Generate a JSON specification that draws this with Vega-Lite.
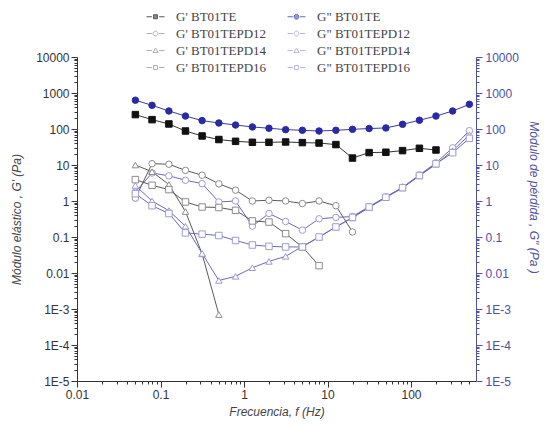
{
  "$schema": "https://vega.github.io/schema/vega-lite/v6.json",
  "width": 399,
  "height": 324,
  "autosize": {"type": "none"},
  "padding": {"left": 77, "top": 57, "right": 69, "bottom": 45},
  "background": "white",
  "config": {
    "view": {"stroke": null},
    "axis": {"grid": false, "labelFont": "Liberation Sans", "titleFont": "Liberation Sans", "labelFontSize": 12, "titleFontSize": 12, "titleFontStyle": "italic", "titleFontWeight": "normal", "labelOverlap": false, "labelFlush": false}
  },
  "datasets": {
    "rheo": [
      {"series": "G' BT01TE", "f": 0.05, "G": 251}, {"series": "G' BT01TE", "f": 0.0792, "G": 182}, {"series": "G' BT01TE", "f": 0.126, "G": 138}, {"series": "G' BT01TE", "f": 0.199, "G": 88}, {"series": "G' BT01TE", "f": 0.315, "G": 64}, {"series": "G' BT01TE", "f": 0.5, "G": 51}, {"series": "G' BT01TE", "f": 0.792, "G": 45.5}, {"series": "G' BT01TE", "f": 1.26, "G": 42.7}, {"series": "G' BT01TE", "f": 1.99, "G": 42.7}, {"series": "G' BT01TE", "f": 3.15, "G": 43.6}, {"series": "G' BT01TE", "f": 5, "G": 41.9}, {"series": "G' BT01TE", "f": 7.92, "G": 40.8}, {"series": "G' BT01TE", "f": 12.6, "G": 36.9}, {"series": "G' BT01TE", "f": 19.9, "G": 15.6}, {"series": "G' BT01TE", "f": 31.5, "G": 22.1}, {"series": "G' BT01TE", "f": 50, "G": 22.6}, {"series": "G' BT01TE", "f": 79.2, "G": 25.1}, {"series": "G' BT01TE", "f": 126, "G": 29.1}, {"series": "G' BT01TE", "f": 199, "G": 26.1},
      {"series": "G\" BT01TE", "f": 0.05, "G": 631}, {"series": "G\" BT01TE", "f": 0.0792, "G": 455}, {"series": "G\" BT01TE", "f": 0.126, "G": 316}, {"series": "G\" BT01TE", "f": 0.199, "G": 229}, {"series": "G\" BT01TE", "f": 0.315, "G": 171}, {"series": "G\" BT01TE", "f": 0.5, "G": 147}, {"series": "G\" BT01TE", "f": 0.792, "G": 129}, {"series": "G\" BT01TE", "f": 1.26, "G": 114}, {"series": "G\" BT01TE", "f": 1.99, "G": 105}, {"series": "G\" BT01TE", "f": 3.15, "G": 96}, {"series": "G\" BT01TE", "f": 5, "G": 92}, {"series": "G\" BT01TE", "f": 7.92, "G": 88}, {"series": "G\" BT01TE", "f": 12.6, "G": 92}, {"series": "G\" BT01TE", "f": 19.9, "G": 98}, {"series": "G\" BT01TE", "f": 31.5, "G": 103}, {"series": "G\" BT01TE", "f": 50, "G": 107}, {"series": "G\" BT01TE", "f": 79.2, "G": 135}, {"series": "G\" BT01TE", "f": 126, "G": 175}, {"series": "G\" BT01TE", "f": 199, "G": 229}, {"series": "G\" BT01TE", "f": 315, "G": 316}, {"series": "G\" BT01TE", "f": 500, "G": 485},
      {"series": "G' BT01TEPD12", "f": 0.05, "G": 1.2}, {"series": "G' BT01TEPD12", "f": 0.0792, "G": 10.9}, {"series": "G' BT01TEPD12", "f": 0.126, "G": 10.5}, {"series": "G' BT01TEPD12", "f": 0.199, "G": 7.1}, {"series": "G' BT01TEPD12", "f": 0.315, "G": 5.2}, {"series": "G' BT01TEPD12", "f": 0.5, "G": 3.0}, {"series": "G' BT01TEPD12", "f": 0.792, "G": 2.0}, {"series": "G' BT01TEPD12", "f": 1.26, "G": 1.0}, {"series": "G' BT01TEPD12", "f": 1.99, "G": 1.05}, {"series": "G' BT01TEPD12", "f": 3.15, "G": 1.0}, {"series": "G' BT01TEPD12", "f": 5, "G": 0.85}, {"series": "G' BT01TEPD12", "f": 7.92, "G": 1.0}, {"series": "G' BT01TEPD12", "f": 12.6, "G": 0.74}, {"series": "G' BT01TEPD12", "f": 19.9, "G": 0.138},
      {"series": "G\" BT01TEPD12", "f": 0.05, "G": 1.75}, {"series": "G\" BT01TEPD12", "f": 0.0792, "G": 6.0}, {"series": "G\" BT01TEPD12", "f": 0.126, "G": 5.0}, {"series": "G\" BT01TEPD12", "f": 0.199, "G": 3.76}, {"series": "G\" BT01TEPD12", "f": 0.315, "G": 3.04}, {"series": "G\" BT01TEPD12", "f": 0.5, "G": 0.94}, {"series": "G\" BT01TEPD12", "f": 0.792, "G": 1.0}, {"series": "G\" BT01TEPD12", "f": 1.26, "G": 0.2}, {"series": "G\" BT01TEPD12", "f": 1.99, "G": 0.45}, {"series": "G\" BT01TEPD12", "f": 3.15, "G": 0.27}, {"series": "G\" BT01TEPD12", "f": 5, "G": 0.155}, {"series": "G\" BT01TEPD12", "f": 7.92, "G": 0.32}, {"series": "G\" BT01TEPD12", "f": 12.6, "G": 0.35}, {"series": "G\" BT01TEPD12", "f": 19.9, "G": 0.37}, {"series": "G\" BT01TEPD12", "f": 31.5, "G": 0.7}, {"series": "G\" BT01TEPD12", "f": 50, "G": 1.3}, {"series": "G\" BT01TEPD12", "f": 79.2, "G": 2.4}, {"series": "G\" BT01TEPD12", "f": 126, "G": 5.3}, {"series": "G\" BT01TEPD12", "f": 199, "G": 11.5}, {"series": "G\" BT01TEPD12", "f": 315, "G": 30}, {"series": "G\" BT01TEPD12", "f": 500, "G": 90},
      {"series": "G' BT01TEPD14", "f": 0.05, "G": 10}, {"series": "G' BT01TEPD14", "f": 0.0792, "G": 6.5}, {"series": "G' BT01TEPD14", "f": 0.126, "G": 2.86}, {"series": "G' BT01TEPD14", "f": 0.199, "G": 0.51}, {"series": "G' BT01TEPD14", "f": 0.315, "G": 0.034}, {"series": "G' BT01TEPD14", "f": 0.5, "G": 0.0007},
      {"series": "G\" BT01TEPD14", "f": 0.05, "G": 2.7}, {"series": "G\" BT01TEPD14", "f": 0.0792, "G": 1.0}, {"series": "G\" BT01TEPD14", "f": 0.126, "G": 0.54}, {"series": "G\" BT01TEPD14", "f": 0.199, "G": 0.2}, {"series": "G\" BT01TEPD14", "f": 0.315, "G": 0.035}, {"series": "G\" BT01TEPD14", "f": 0.5, "G": 0.0062}, {"series": "G\" BT01TEPD14", "f": 0.792, "G": 0.0081}, {"series": "G\" BT01TEPD14", "f": 1.26, "G": 0.014}, {"series": "G\" BT01TEPD14", "f": 1.99, "G": 0.021}, {"series": "G\" BT01TEPD14", "f": 3.15, "G": 0.029}, {"series": "G\" BT01TEPD14", "f": 5, "G": 0.055}, {"series": "G\" BT01TEPD14", "f": 7.92, "G": 0.1}, {"series": "G\" BT01TEPD14", "f": 12.6, "G": 0.19}, {"series": "G\" BT01TEPD14", "f": 19.9, "G": 0.34}, {"series": "G\" BT01TEPD14", "f": 31.5, "G": 0.66}, {"series": "G\" BT01TEPD14", "f": 50, "G": 1.25}, {"series": "G\" BT01TEPD14", "f": 79.2, "G": 2.3}, {"series": "G\" BT01TEPD14", "f": 126, "G": 5.0}, {"series": "G\" BT01TEPD14", "f": 199, "G": 10.5}, {"series": "G\" BT01TEPD14", "f": 315, "G": 25}, {"series": "G\" BT01TEPD14", "f": 500, "G": 68},
      {"series": "G' BT01TEPD16", "f": 0.05, "G": 3.93}, {"series": "G' BT01TEPD16", "f": 0.0792, "G": 2.73}, {"series": "G' BT01TEPD16", "f": 0.126, "G": 2.07}, {"series": "G' BT01TEPD16", "f": 0.199, "G": 0.94}, {"series": "G' BT01TEPD16", "f": 0.315, "G": 0.68}, {"series": "G' BT01TEPD16", "f": 0.5, "G": 0.66}, {"series": "G' BT01TEPD16", "f": 0.792, "G": 0.55}, {"series": "G' BT01TEPD16", "f": 1.26, "G": 0.28}, {"series": "G' BT01TEPD16", "f": 1.99, "G": 0.26}, {"series": "G' BT01TEPD16", "f": 3.15, "G": 0.124}, {"series": "G' BT01TEPD16", "f": 5, "G": 0.053}, {"series": "G' BT01TEPD16", "f": 7.92, "G": 0.016},
      {"series": "G\" BT01TEPD16", "f": 0.05, "G": 1.6}, {"series": "G\" BT01TEPD16", "f": 0.0792, "G": 0.74}, {"series": "G\" BT01TEPD16", "f": 0.126, "G": 0.45}, {"series": "G\" BT01TEPD16", "f": 0.199, "G": 0.13}, {"series": "G\" BT01TEPD16", "f": 0.315, "G": 0.12}, {"series": "G\" BT01TEPD16", "f": 0.5, "G": 0.11}, {"series": "G\" BT01TEPD16", "f": 0.792, "G": 0.08}, {"series": "G\" BT01TEPD16", "f": 1.26, "G": 0.06}, {"series": "G\" BT01TEPD16", "f": 1.99, "G": 0.055}, {"series": "G\" BT01TEPD16", "f": 3.15, "G": 0.053}, {"series": "G\" BT01TEPD16", "f": 5, "G": 0.053}, {"series": "G\" BT01TEPD16", "f": 7.92, "G": 0.1}, {"series": "G\" BT01TEPD16", "f": 12.6, "G": 0.19}, {"series": "G\" BT01TEPD16", "f": 19.9, "G": 0.35}, {"series": "G\" BT01TEPD16", "f": 31.5, "G": 0.68}, {"series": "G\" BT01TEPD16", "f": 50, "G": 1.27}, {"series": "G\" BT01TEPD16", "f": 79.2, "G": 2.35}, {"series": "G\" BT01TEPD16", "f": 126, "G": 5.1}, {"series": "G\" BT01TEPD16", "f": 199, "G": 10.8}, {"series": "G\" BT01TEPD16", "f": 315, "G": 22}, {"series": "G\" BT01TEPD16", "f": 500, "G": 55}
    ]
  },
  "data": {"name": "rheo"},
  "encoding": {
    "x": {
      "field": "f", "type": "quantitative",
      "scale": {"type": "log", "domain": [0.01, 600], "nice": false},
      "axis": {
        "values": [0.01,0.02,0.03,0.04,0.05,0.06,0.07,0.08,0.09,0.1,0.2,0.3,0.4,0.5,0.6,0.7,0.8,0.9,1,2,3,4,5,6,7,8,9,10,20,30,40,50,60,70,80,90,100,200,300,400,500],
        "labelExpr": "abs(log(datum.value)/LN10 - round(log(datum.value)/LN10)) < 0.001 ? format(datum.value, '~g') : ''",
        "tickSize": {"condition": {"test": "abs(log(datum.value)/LN10 - round(log(datum.value)/LN10)) < 0.001", "value": 6}, "value": 3},
        "title": "Frecuencia, f (Hz)",
        "titleColor": "#444", "labelColor": "#333", "domainColor": "#333", "tickColor": "#333",
        "labelPadding": 2, "titlePadding": 6
      }
    }
  },
  "layer": [
    {
      "mark": {"type": "line", "strokeWidth": 1},
      "encoding": {
        "y": {
          "field": "G", "type": "quantitative",
          "scale": {"type": "log", "domain": [0.00001, 10000], "nice": false},
          "axis": {
            "orient": "left",
            "values": [1e-5,2e-5,3e-5,4e-5,5e-5,6e-5,7e-5,8e-5,9e-5,1e-4,2e-4,3e-4,4e-4,5e-4,6e-4,7e-4,8e-4,9e-4,0.001,0.002,0.003,0.004,0.005,0.006,0.007,0.008,0.009,0.01,0.02,0.03,0.04,0.05,0.06,0.07,0.08,0.09,0.1,0.2,0.3,0.4,0.5,0.6,0.7,0.8,0.9,1,2,3,4,5,6,7,8,9,10,20,30,40,50,60,70,80,90,100,200,300,400,500,600,700,800,900,1000,2000,3000,4000,5000,6000,7000,8000,9000,10000],
            "labelExpr": "abs(log(datum.value)/LN10 - round(log(datum.value)/LN10)) < 0.001 ? (datum.value >= 0.01 ? format(datum.value, '~g') : '1E' + round(log(datum.value)/LN10)) : ''",
            "tickSize": {"condition": {"test": "abs(log(datum.value)/LN10 - round(log(datum.value)/LN10)) < 0.001", "value": 6}, "value": 3},
            "title": "Módulo elástico  , G' (Pa)",
            "titleX": -54, "titleY": 162, "titleAngle": -90,
            "titleColor": "#444", "labelColor": "#333", "domainColor": "#333", "tickColor": "#333",
            "labelPadding": 2
          }
        },
        "color": {
          "field": "series", "type": "nominal", "legend": null,
          "scale": {
            "domain": ["G' BT01TE", "G' BT01TEPD12", "G' BT01TEPD14", "G' BT01TEPD16", "G\" BT01TE", "G\" BT01TEPD12", "G\" BT01TEPD14", "G\" BT01TEPD16"],
            "range": ["#333333", "#5a5a5a", "#5a5a5a", "#5a5a5a", "#3a3aa8", "#6b6bb5", "#6b6bb5", "#6b6bb5"]
          }
        }
      }
    },
    {
      "mark": {"type": "point", "filled": true, "size": 42, "strokeWidth": 1, "opacity": 1},
      "encoding": {
        "y": {
          "field": "G", "type": "quantitative",
          "scale": {"type": "log", "domain": [0.00001, 10000], "nice": false},
          "axis": {
            "orient": "right",
            "values": [1e-5,2e-5,3e-5,4e-5,5e-5,6e-5,7e-5,8e-5,9e-5,1e-4,2e-4,3e-4,4e-4,5e-4,6e-4,7e-4,8e-4,9e-4,0.001,0.002,0.003,0.004,0.005,0.006,0.007,0.008,0.009,0.01,0.02,0.03,0.04,0.05,0.06,0.07,0.08,0.09,0.1,0.2,0.3,0.4,0.5,0.6,0.7,0.8,0.9,1,2,3,4,5,6,7,8,9,10,20,30,40,50,60,70,80,90,100,200,300,400,500,600,700,800,900,1000,2000,3000,4000,5000,6000,7000,8000,9000,10000],
            "labelExpr": "abs(log(datum.value)/LN10 - round(log(datum.value)/LN10)) < 0.001 ? (datum.value >= 0.01 ? format(datum.value, '~g') : '1E' + round(log(datum.value)/LN10)) : ''",
            "tickSize": {"condition": {"test": "abs(log(datum.value)/LN10 - round(log(datum.value)/LN10)) < 0.001", "value": 6}, "value": 3},
            "title": "Módulo de pérdida , G\" (Pa )",
            "titleX": 50, "titleY": 140, "titleAngle": 90,
            "titleColor": "#5050a0", "labelColor": "#5050a0", "domainColor": "#5050a0", "tickColor": "#5050a0",
            "labelPadding": 3
          }
        },
        "shape": {
          "field": "series", "type": "nominal", "legend": null,
          "scale": {
            "domain": ["G' BT01TE", "G' BT01TEPD12", "G' BT01TEPD14", "G' BT01TEPD16", "G\" BT01TE", "G\" BT01TEPD12", "G\" BT01TEPD14", "G\" BT01TEPD16"],
            "range": ["square", "circle", "triangle-up", "square", "circle", "circle", "triangle-up", "square"]
          }
        },
        "stroke": {
          "field": "series", "type": "nominal", "legend": null,
          "scale": {
            "domain": ["G' BT01TE", "G' BT01TEPD12", "G' BT01TEPD14", "G' BT01TEPD16", "G\" BT01TE", "G\" BT01TEPD12", "G\" BT01TEPD14", "G\" BT01TEPD16"],
            "range": ["#111111", "#8c8c8c", "#8c8c8c", "#8c8c8c", "#2a2aa5", "#9c9cd2", "#9c9cd2", "#9c9cd2"]
          }
        },
        "fill": {
          "field": "series", "type": "nominal", "legend": null,
          "scale": {
            "domain": ["G' BT01TE", "G' BT01TEPD12", "G' BT01TEPD14", "G' BT01TEPD16", "G\" BT01TE", "G\" BT01TEPD12", "G\" BT01TEPD14", "G\" BT01TEPD16"],
            "range": ["#111111", "white", "white", "white", "#2a2aa5", "white", "white", "white"]
          }
        }
      }
    },
    {
      "transform": [{"filter": "false"}],
      "mark": {"type": "point", "filled": true, "strokeWidth": 1},
      "encoding": {
        "shape": {
          "field": "series", "type": "nominal",
          "scale": {
            "domain": ["G' BT01TE", "G' BT01TEPD12", "G' BT01TEPD14", "G' BT01TEPD16", "G\" BT01TE", "G\" BT01TEPD12", "G\" BT01TEPD14", "G\" BT01TEPD16"],
            "range": [
              "M-1.5,0H-0.6M0.6,0H1.5M-0.33,-0.33H0.33V0.33H-0.33Z",
              "M-1.5,0H-0.6M0.6,0H1.5M-0.4,0A0.4,0.4 0 1,0 0.4,0A0.4,0.4 0 1,0 -0.4,0Z",
              "M-1.5,0H-0.6M0.6,0H1.5M0,-0.42L0.42,0.32H-0.42Z",
              "M-1.5,0H-0.6M0.6,0H1.5M-0.33,-0.33H0.33V0.33H-0.33Z",
              "M-1.5,0H-0.6M0.6,0H1.5M-0.4,0A0.4,0.4 0 1,0 0.4,0A0.4,0.4 0 1,0 -0.4,0Z",
              "M-1.5,0H-0.6M0.6,0H1.5M-0.4,0A0.4,0.4 0 1,0 0.4,0A0.4,0.4 0 1,0 -0.4,0Z",
              "M-1.5,0H-0.6M0.6,0H1.5M0,-0.42L0.42,0.32H-0.42Z",
              "M-1.5,0H-0.6M0.6,0H1.5M-0.33,-0.33H0.33V0.33H-0.33Z"
            ]
          },
          "legend": {"orient": "none", "legendX": 72, "legendY": -47, "columns": 2, "title": null, "labelFont": "Liberation Serif", "labelFontSize": 13, "labelColor": "#444", "symbolSize": 144, "symbolStrokeWidth": 1, "labelOffset": 14, "columnPadding": 18, "rowPadding": 3, "padding": 0, "offset": 0}
        },
        "stroke": {
          "field": "series", "type": "nominal",
          "scale": {
            "domain": ["G' BT01TE", "G' BT01TEPD12", "G' BT01TEPD14", "G' BT01TEPD16", "G\" BT01TE", "G\" BT01TEPD12", "G\" BT01TEPD14", "G\" BT01TEPD16"],
            "range": ["#111111", "#8c8c8c", "#8c8c8c", "#8c8c8c", "#2a2aa5", "#9c9cd2", "#9c9cd2", "#9c9cd2"]
          },
          "legend": {"orient": "none", "legendX": 72, "legendY": -47, "columns": 2, "title": null, "labelFont": "Liberation Serif", "labelFontSize": 13, "labelColor": "#444", "symbolSize": 144, "symbolStrokeWidth": 1, "labelOffset": 14, "columnPadding": 18, "rowPadding": 3, "padding": 0, "offset": 0}
        },
        "fill": {
          "field": "series", "type": "nominal",
          "scale": {
            "domain": ["G' BT01TE", "G' BT01TEPD12", "G' BT01TEPD14", "G' BT01TEPD16", "G\" BT01TE", "G\" BT01TEPD12", "G\" BT01TEPD14", "G\" BT01TEPD16"],
            "range": ["#111111", "white", "white", "white", "#2a2aa5", "white", "white", "white"]
          },
          "legend": {"orient": "none", "legendX": 72, "legendY": -47, "columns": 2, "title": null, "labelFont": "Liberation Serif", "labelFontSize": 13, "labelColor": "#444", "symbolSize": 144, "symbolStrokeWidth": 1, "labelOffset": 14, "columnPadding": 18, "rowPadding": 3, "padding": 0, "offset": 0}
        }
      }
    }
  ],
  "resolve": {
    "axis": {"y": "independent"},
    "scale": {"shape": "independent", "stroke": "independent", "fill": "independent"}
  }
}
